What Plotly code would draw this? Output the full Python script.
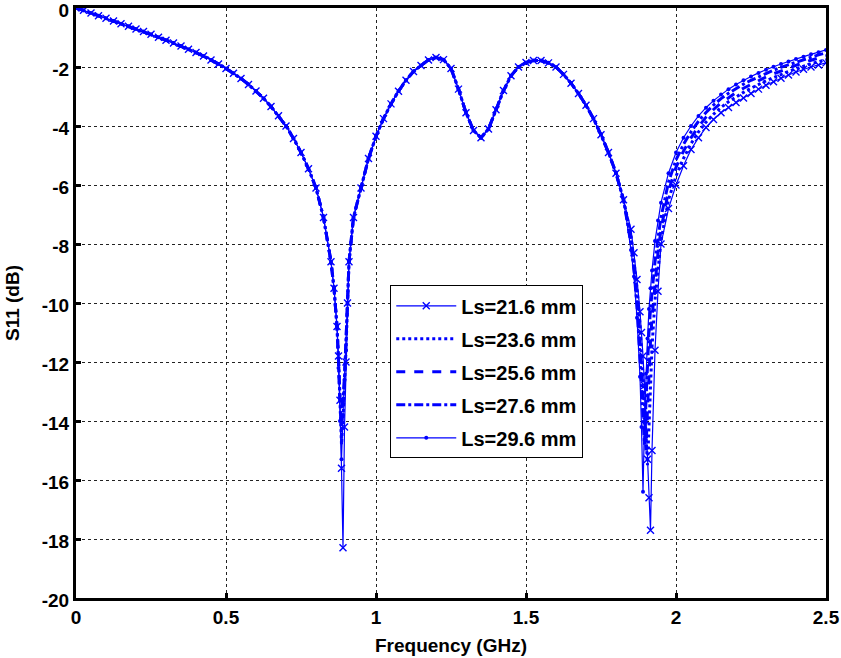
import plotly.graph_objects as go

# shared part of the curves (all five traces coincide here)
f_a = [0, 0.025, 0.05, 0.075, 0.1, 0.125, 0.15, 0.175, 0.2, 0.225, 0.25, 0.275,
       0.3, 0.325, 0.35, 0.375, 0.4, 0.425, 0.45, 0.475, 0.5, 0.525, 0.55, 0.575,
       0.6, 0.625, 0.65, 0.675, 0.7, 0.725, 0.75, 0.775, 0.8, 0.825, 0.85, 0.86, 0.87]
s_a = [0, -0.08, -0.17, -0.26, -0.35, -0.44, -0.53, -0.62, -0.71, -0.8, -0.89, -0.99,
       -1.09, -1.19, -1.29, -1.4, -1.51, -1.63, -1.76, -1.9, -2.05, -2.21, -2.39, -2.59,
       -2.81, -3.06, -3.34, -3.65, -4.0, -4.42, -4.9, -5.45, -6.1, -7.1, -8.6, -9.5, -10.8]

# first resonance
f_dip1 = [0.875, 0.88, 0.885, 0.89, 0.895, 0.9]
dip1_216 = [-11.8, -13.3, -15.6, -18.3, -14.2, -12.0]
dip1_236 = [-11.9, -13.6, -14.8, -13.9, -12.8, -11.6]
dip1_256 = [-12.0, -13.5, -14.2, -13.6, -12.6, -11.5]
dip1_276 = [-11.9, -13.2, -13.6, -13.3, -12.5, -11.5]
dip1_296 = [-12.2, -14.0, -15.3, -13.8, -12.6, -11.6]

f_b = [0.905, 0.91, 0.925, 0.95, 0.975, 1.0, 1.025, 1.05, 1.075, 1.1, 1.125, 1.15,
       1.175, 1.2, 1.225, 1.25, 1.275, 1.3, 1.325, 1.35, 1.375, 1.4, 1.425, 1.45,
       1.475, 1.5, 1.525, 1.55, 1.575, 1.6, 1.625, 1.65, 1.675, 1.7, 1.725, 1.75,
       1.775, 1.8, 1.825]
s_b = [-10.0, -8.6, -7.1, -6.1, -5.1, -4.35, -3.75, -3.25, -2.82, -2.45, -2.15, -1.95,
       -1.76, -1.68, -1.75, -2.05, -2.75, -3.55, -4.15, -4.4, -4.1, -3.45, -2.8, -2.3,
       -2.0, -1.85, -1.78, -1.78, -1.86, -2.0, -2.25, -2.55, -2.9, -3.3, -3.75, -4.3,
       -4.9, -5.6, -6.5]

# second resonance and upper band
f_c = [1.85, 1.86, 1.87, 1.88, 1.885, 1.89, 1.895, 1.9, 1.905, 1.91, 1.915, 1.92,
       1.93, 1.94, 1.95, 1.975, 2.0, 2.025, 2.05, 2.075, 2.1, 2.125, 2.15, 2.175,
       2.2, 2.225, 2.25, 2.275, 2.3, 2.325, 2.35, 2.375, 2.4, 2.425, 2.45, 2.475, 2.5]
tail_216 = [-7.5, -8.3, -9.2, -10.3, -11.0, -11.8, -12.8, -14.0, -15.3, -16.6, -17.7, -15.0,
            -11.6, -9.6, -8.0, -6.8, -6.0, -5.35, -4.8, -4.4, -4.05, -3.78, -3.55, -3.37,
            -3.2, -3.05, -2.9, -2.75, -2.62, -2.5, -2.38, -2.27, -2.17, -2.08, -2.0, -1.93, -1.86]
tail_236 = [-7.7, -8.5, -9.5, -10.7, -11.5, -12.4, -13.4, -14.5, -15.5, -14.2, -12.6, -11.5,
            -9.9, -8.8, -7.9, -6.5, -5.7, -5.1, -4.6, -4.2, -3.87, -3.6, -3.37, -3.18,
            -3.01, -2.86, -2.72, -2.59, -2.47, -2.36, -2.25, -2.15, -2.06, -1.97, -1.89, -1.82, -1.75]
tail_256 = [-7.85, -8.7, -9.8, -11.2, -12.1, -13.2, -14.3, -15.0, -13.6, -12.3, -11.3, -10.5,
            -9.3, -8.3, -7.5, -6.2, -5.4, -4.85, -4.4, -4.02, -3.7, -3.44, -3.22, -3.03,
            -2.87, -2.72, -2.59, -2.46, -2.34, -2.23, -2.13, -2.03, -1.94, -1.85, -1.77, -1.69, -1.62]
tail_276 = [-8.0, -8.9, -10.1, -11.7, -12.8, -13.9, -14.8, -13.3, -12.0, -11.0, -10.2, -9.6,
            -8.6, -7.8, -7.1, -5.9, -5.15, -4.62, -4.2, -3.84, -3.54, -3.29, -3.07, -2.89,
            -2.73, -2.58, -2.45, -2.33, -2.21, -2.11, -2.01, -1.92, -1.83, -1.75, -1.67, -1.59, -1.52]
tail_296 = [-8.2, -9.1, -10.5, -12.5, -14.2, -16.4, -14.0, -12.4, -11.2, -10.2, -9.5, -8.9,
            -7.9, -7.2, -6.6, -5.6, -4.9, -4.4, -4.0, -3.66, -3.38, -3.14, -2.93, -2.75,
            -2.59, -2.45, -2.32, -2.2, -2.09, -1.99, -1.9, -1.81, -1.73, -1.65, -1.57, -1.5, -1.42]

names = ['Ls=21.6 mm', 'Ls=23.6 mm', 'Ls=25.6 mm', 'Ls=27.6 mm', 'Ls=29.6 mm']
dips = [dip1_216, dip1_236, dip1_256, dip1_276, dip1_296]
tails = [tail_216, tail_236, tail_256, tail_276, tail_296]

# tick labels (plain hyphen like the original)
y_ticks = [0, -2, -4, -6, -8, -10, -12, -14, -16, -18, -20]
y_labels = ['0', '-2', '-4', '-6', '-8', '-10', '-12', '-14', '-16', '-18', '-20']

freq = f_a + f_dip1 + f_b + f_c

styles = [
    dict(width=1.2, dash='solid', mode='lines+markers',
         marker=dict(symbol='x-thin-open', size=7, line=dict(width=1.4, color='blue'))),
    dict(width=3, dash='dot', mode='lines'),
    dict(width=3, dash='dash', mode='lines'),
    dict(width=3, dash='dashdot', mode='lines'),
    dict(width=1.2, dash='solid', mode='lines+markers',
         marker=dict(symbol='circle', size=4)),
]

fig = go.Figure()
for i in range(5):
    s11 = s_a + dips[i] + s_b + tails[i]
    st = styles[i]
    fig.add_trace(go.Scatter(
        x=freq, y=s11, name=names[i], mode=st['mode'],
        line=dict(color='blue', width=st['width'], dash=st['dash']),
        marker=st.get('marker', None), legendgroup=names[i]))

font = dict(family='Liberation Sans', size=19, color='black', weight='bold')
axis = dict(showline=True, linecolor='black', linewidth=3, mirror=True,
            ticks='inside', ticklen=5, tickwidth=3, tickcolor='black',
            showgrid=True, gridcolor='#222', gridwidth=1, griddash='dot',
            zeroline=False, tickfont=font, automargin=False,
            ticklabeloverflow='allow')

fig.update_layout(
    width=841, height=658,
    margin=dict(l=76, r=15, t=8, b=60),
    paper_bgcolor='white', plot_bgcolor='white',
    xaxis=dict(axis, range=[0, 2.5], dtick=0.5,
               title=dict(text='Frequency (GHz)', font=font, standoff=12)),
    yaxis=dict(axis, range=[-20, 0], tickvals=y_ticks, ticktext=y_labels,
               ticklabelshift=2),
    legend=dict(x=0.419, y=0.53, xanchor='left', yanchor='top',
                bgcolor='white', bordercolor='black', borderwidth=1,
                font=dict(font, size=20), tracegroupgap=4, itemwidth=60),
    showlegend=True,
)
# y label sits closer to the edge than plotly's axis title allows
fig.add_annotation(text='S11 (dB)', textangle=-90, font=font, showarrow=False,
                   xref='paper', yref='paper', x=-0.0853, y=0.5,
                   xanchor='center', yanchor='middle')

# page body has a default 8px margin; drop it so the figure sits at the corner
fig.write_html("out.html", config={'displayModeBar': False},
               post_script="document.body.style.margin='0px';")
